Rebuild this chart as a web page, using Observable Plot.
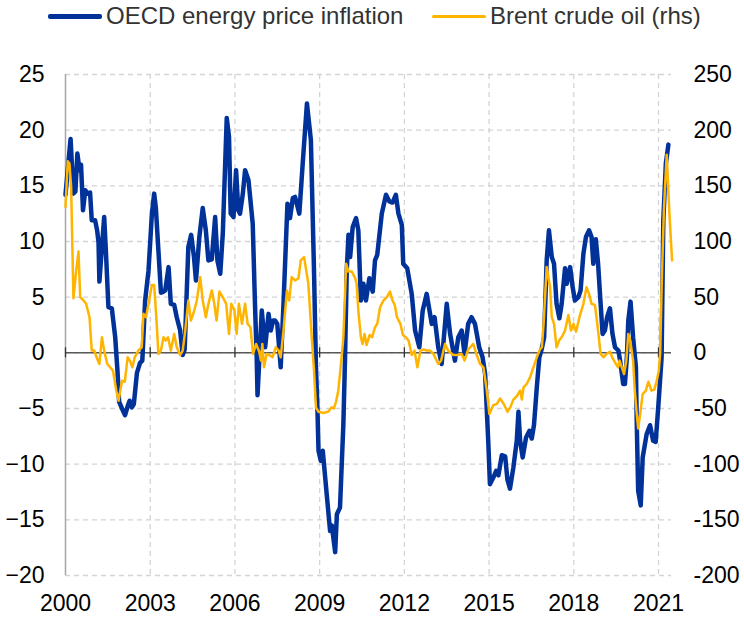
<!DOCTYPE html>
<html>
<head>
<meta charset="utf-8">
<script src="https://cdn.jsdelivr.net/npm/d3@7"></script>
<script src="https://cdn.jsdelivr.net/npm/@observablehq/plot@0.6"></script>
<style>
  body { margin: 0; background: #fff; font-family: "Liberation Sans", Arial, sans-serif; }
  #legend { position: relative; width: 744px; height: 40px; }
  .item { position: absolute; top: 0; height: 32px; display: flex; align-items: center; font-size: 24px; color: #333; white-space: nowrap; }
  .swatch { display: inline-block; width: 54px; margin-right: 4px; border-radius: 2px; }
</style>
</head>
<body>
<div id="legend"></div>
<div id="chart"></div>
<script>
// OECD energy price inflation (% y/y), decimal year
const oecdDates = [2000.00,2000.10,2000.18,2000.28,2000.35,2000.42,2000.50,2000.55,2000.62,2000.70,2000.78,2000.87,2000.93,2001.05,2001.12,2001.17,2001.20,2001.29,2001.37,2001.44,2001.52,2001.64,2001.76,2001.84,2001.90,2002.00,2002.11,2002.20,2002.27,2002.35,2002.42,2002.53,2002.64,2002.72,2002.82,2002.94,2003.06,2003.14,2003.20,2003.29,2003.38,2003.47,2003.53,2003.65,2003.73,2003.85,2003.94,2004.06,2004.15,2004.22,2004.35,2004.45,2004.55,2004.62,2004.74,2004.86,2004.97,2005.06,2005.18,2005.30,2005.38,2005.48,2005.57,2005.71,2005.79,2005.85,2005.95,2006.04,2006.12,2006.18,2006.28,2006.36,2006.48,2006.63,2006.71,2006.77,2006.80,2006.88,2006.95,2007.07,2007.19,2007.27,2007.35,2007.42,2007.50,2007.62,2007.72,2007.86,2007.95,2008.05,2008.13,2008.28,2008.40,2008.55,2008.69,2008.80,2008.87,2008.92,2008.96,2009.04,2009.11,2009.25,2009.37,2009.43,2009.55,2009.61,2009.72,2009.84,2009.90,2009.96,2010.02,2010.08,2010.17,2010.29,2010.37,2010.46,2010.55,2010.64,2010.76,2010.88,2010.96,2011.04,2011.20,2011.35,2011.47,2011.58,2011.70,2011.79,2011.91,2011.96,2012.10,2012.26,2012.38,2012.53,2012.65,2012.79,2012.97,2013.07,2013.20,2013.32,2013.50,2013.62,2013.79,2013.91,2014.03,2014.13,2014.26,2014.38,2014.50,2014.65,2014.77,2014.86,2014.97,2015.03,2015.15,2015.25,2015.33,2015.45,2015.57,2015.65,2015.74,2015.86,2015.98,2016.04,2016.10,2016.19,2016.31,2016.43,2016.51,2016.59,2016.69,2016.78,2016.86,2016.95,2017.04,2017.12,2017.22,2017.30,2017.39,2017.49,2017.57,2017.69,2017.75,2017.87,2017.96,2018.04,2018.16,2018.24,2018.34,2018.43,2018.54,2018.63,2018.69,2018.78,2018.86,2018.95,2019.02,2019.10,2019.18,2019.28,2019.37,2019.46,2019.58,2019.64,2019.75,2019.81,2019.88,2019.93,2020.01,2020.10,2020.20,2020.23,2020.28,2020.37,2020.44,2020.58,2020.70,2020.81,2020.90,2020.99,2021.11,2021.17,2021.26,2021.35];
const oecdValues = [14.2,17.0,19.2,14.3,14.5,17.9,16.4,16.9,12.8,14.6,14.3,14.4,11.9,11.9,11.0,9.9,6.4,9.5,12.2,8.6,4.1,4.0,1.4,-1.6,-4.4,-5.0,-5.6,-4.8,-4.3,-4.9,-4.6,-1.8,-0.9,-0.7,4.7,7.4,12.5,14.3,13.0,9.2,5.4,5.5,5.6,7.7,4.4,4.3,3.2,2.0,-0.2,0.3,9.5,10.6,8.6,6.5,10.4,13.0,11.0,8.3,8.4,12.2,8.3,7.1,10.7,21.1,19.4,12.5,12.2,16.4,12.8,12.5,14.3,16.4,15.5,11.6,4.4,-0.4,-3.8,0.2,3.8,0.5,3.5,2.0,2.9,2.9,2.6,-1.3,4.4,13.4,12.1,13.9,14.0,12.5,17.0,22.4,19.1,7.4,-1.3,-4.9,-8.8,-9.7,-8.8,-12.7,-16.0,-15.5,-17.9,-14.5,-13.9,-6.4,-0.4,7.4,10.6,8.6,11.3,12.1,11.0,4.7,6.2,4.7,6.7,5.5,8.3,8.8,12.5,14.2,13.6,13.5,14.2,12.5,11.5,8.0,7.6,5.3,2.0,0.5,3.8,5.3,2.6,3.2,0.5,-1.0,4.4,1.7,-0.7,1.4,2.0,-0.1,2.6,3.2,2.6,0.5,-0.4,-1.9,-7.9,-11.8,-11.2,-10.6,-11.0,-9.2,-9.3,-11.4,-12.2,-10.3,-7.9,-5.3,-7.9,-9.4,-7.6,-7.0,-7.7,-6.5,-3.1,-0.4,0.3,1.4,8.3,11.0,8.6,8.0,4.4,3.1,4.4,7.6,6.2,7.7,5.9,4.7,5.0,5.6,8.9,10.4,11.0,10.4,8.0,10.2,8.0,4.4,1.7,2.0,3.2,4.0,1.7,0.5,0.2,-0.7,-2.8,-2.8,-0.4,2.9,4.6,1.4,-1.3,-6.4,-12.4,-13.7,-9.4,-7.3,-6.5,-7.9,-8.0,-4.9,-0.4,11.9,17.0,18.7];

// Brent crude oil (% y/y, right-hand scale), decimal year
const brentDates = [2000.00,2000.08,2000.14,2000.20,2000.28,2000.38,2000.46,2000.52,2000.64,2000.73,2000.85,2000.93,2001.02,2001.10,2001.20,2001.29,2001.37,2001.48,2001.58,2001.68,2001.80,2001.88,2002.00,2002.10,2002.20,2002.28,2002.37,2002.45,2002.58,2002.70,2002.76,2002.85,2002.94,2003.06,2003.14,2003.23,2003.29,2003.38,2003.47,2003.55,2003.63,2003.73,2003.85,2003.94,2004.06,2004.15,2004.24,2004.35,2004.44,2004.56,2004.65,2004.77,2004.86,2004.97,2005.06,2005.18,2005.27,2005.35,2005.45,2005.57,2005.69,2005.79,2005.87,2005.98,2006.06,2006.14,2006.25,2006.36,2006.45,2006.55,2006.64,2006.75,2006.86,2006.92,2006.97,2007.03,2007.12,2007.21,2007.33,2007.45,2007.55,2007.62,2007.72,2007.84,2007.92,2008.01,2008.13,2008.25,2008.33,2008.45,2008.60,2008.72,2008.80,2008.87,2008.96,2009.13,2009.30,2009.42,2009.50,2009.58,2009.66,2009.72,2009.80,2009.84,2009.94,2010.02,2010.14,2010.26,2010.31,2010.37,2010.46,2010.52,2010.59,2010.66,2010.77,2010.86,2010.96,2011.04,2011.14,2011.26,2011.38,2011.49,2011.58,2011.66,2011.74,2011.86,2011.95,2012.05,2012.15,2012.26,2012.36,2012.46,2012.57,2012.68,2012.79,2012.91,2013.03,2013.20,2013.30,2013.44,2013.55,2013.73,2013.88,2014.03,2014.13,2014.26,2014.44,2014.55,2014.68,2014.80,2014.92,2015.01,2015.15,2015.27,2015.39,2015.52,2015.65,2015.75,2015.86,2015.98,2016.10,2016.16,2016.22,2016.33,2016.45,2016.57,2016.69,2016.80,2016.87,2016.93,2017.04,2017.16,2017.22,2017.30,2017.39,2017.48,2017.57,2017.69,2017.81,2017.90,2017.99,2018.08,2018.20,2018.34,2018.45,2018.54,2018.63,2018.75,2018.86,2018.95,2019.05,2019.16,2019.28,2019.38,2019.49,2019.57,2019.62,2019.70,2019.78,2019.86,2019.93,2020.00,2020.10,2020.16,2020.23,2020.28,2020.35,2020.44,2020.55,2020.64,2020.75,2020.85,2020.94,2021.01,2021.06,2021.11,2021.19,2021.29,2021.38,2021.48];
const brentValues = [131,172,170,149,49,74,91,50,47,44,32,2,2,-4,-10,14,2,-10,-13,-16,-34,-43,-25,-26,-4,-7,-13,-4,2,5,35,32,44,61,61,26,-1,2,14,11,14,2,17,5,-2,2,20,47,29,38,47,68,47,32,44,56,44,29,55,50,44,17,44,38,17,44,26,44,26,23,-1,8,1,-7,8,-13,-1,-2,-4,5,2,-4,20,56,47,68,65,67,83,86,62,14,-16,-49,-53,-54,-53,-49,-50,-44,-34,-19,2,14,80,73,73,67,62,38,14,8,17,7,16,14,23,26,41,47,50,55,47,43,32,26,16,14,11,-2,2,-13,2,3,2,2,-1,-10,-7,8,2,-2,-2,-1,-7,3,8,-1,-10,-13,-34,-55,-47,-46,-41,-46,-53,-49,-42,-39,-34,-42,-31,-28,-22,-13,-4,3,5,26,77,59,32,26,5,11,14,20,34,20,26,19,32,44,59,53,44,43,20,-1,-4,-1,1,-5,-10,-13,-7,-13,-19,-7,17,11,-7,-34,-55,-68,-55,-37,-34,-26,-34,-33,-25,-16,0,59,128,178,128,83];

// Axis ticks
const yTicks = [-20, -15, -10, -5, 0, 5, 10, 15, 20, 25];
const xTicks = [2000, 2003, 2006, 2009, 2012, 2015, 2018, 2021];

const seriesNames = ["OECD energy price inflation", "Brent crude oil (rhs)"];
const seriesColors = ["#003299", "#FFB400"];

const oecd = oecdDates.map((t, i) => ({t, v: oecdValues[i]}));
const brent = brentDates.map((t, i) => ({t, v: brentValues[i]}));

// Legend
const legend = document.getElementById("legend");
const legendPos = [48, 432];
const legendThick = [5, 3];
seriesNames.forEach((name, i) => {
  const it = document.createElement("div");
  it.className = "item";
  it.style.left = legendPos[i] + "px";
  const sw = document.createElement("span");
  sw.className = "swatch";
  sw.style.height = legendThick[i] + "px";
  sw.style.background = seriesColors[i];
  it.appendChild(sw);
  it.appendChild(document.createTextNode(name));
  legend.appendChild(it);
});

const chart = Plot.plot({
  width: 744,
  height: 577,
  marginLeft: 65,
  marginRight: 73,
  marginTop: 34,
  marginBottom: 42,
  style: {fontFamily: "'Liberation Sans', Arial, sans-serif", fontSize: "23px", color: "#000", background: "#fff"},
  x: {domain: [2000, 2021.46]},
  y: {domain: [-20, 25]},
  marks: [
    Plot.gridY(yTicks, {stroke: "#d4d4d4", strokeOpacity: 1, strokeWidth: 1.3, strokeDasharray: "5,4"}),
    Plot.gridX(xTicks.slice(1), {stroke: "#d4d4d4", strokeOpacity: 1, strokeWidth: 1.3, strokeDasharray: "5,4"}),
    Plot.ruleX([2000], {stroke: "#a6a6a6", strokeWidth: 1.5}),
    Plot.ruleY([0], {stroke: "#595959", strokeWidth: 1.5}),
    Plot.ruleX(xTicks, {y1: -0.45, y2: 0.45, stroke: "#333", strokeWidth: 1.3}),
    Plot.line(oecd, {x: "t", y: "v", stroke: seriesColors[0], strokeWidth: 4.5, strokeLinejoin: "round", curve: "linear"}),
    Plot.line(brent, {x: "t", y: d => d.v / 10, stroke: seriesColors[1], strokeWidth: 2.5, strokeLinejoin: "round", curve: "linear"}),
    Plot.axisY(yTicks, {anchor: "left", tickSize: 0, tickPadding: 21, fontSize: 23, label: null}),
    Plot.axisY(yTicks, {anchor: "right", tickSize: 0, tickPadding: 22, fontSize: 23, label: null, tickFormat: d => String(d * 10)}),
    Plot.axisX(xTicks, {anchor: "bottom", tickSize: 0, tickPadding: 19, fontSize: 23, label: null, tickFormat: d => String(d)})
  ]
});
document.getElementById("chart").appendChild(chart);
</script>
</body>
</html>
